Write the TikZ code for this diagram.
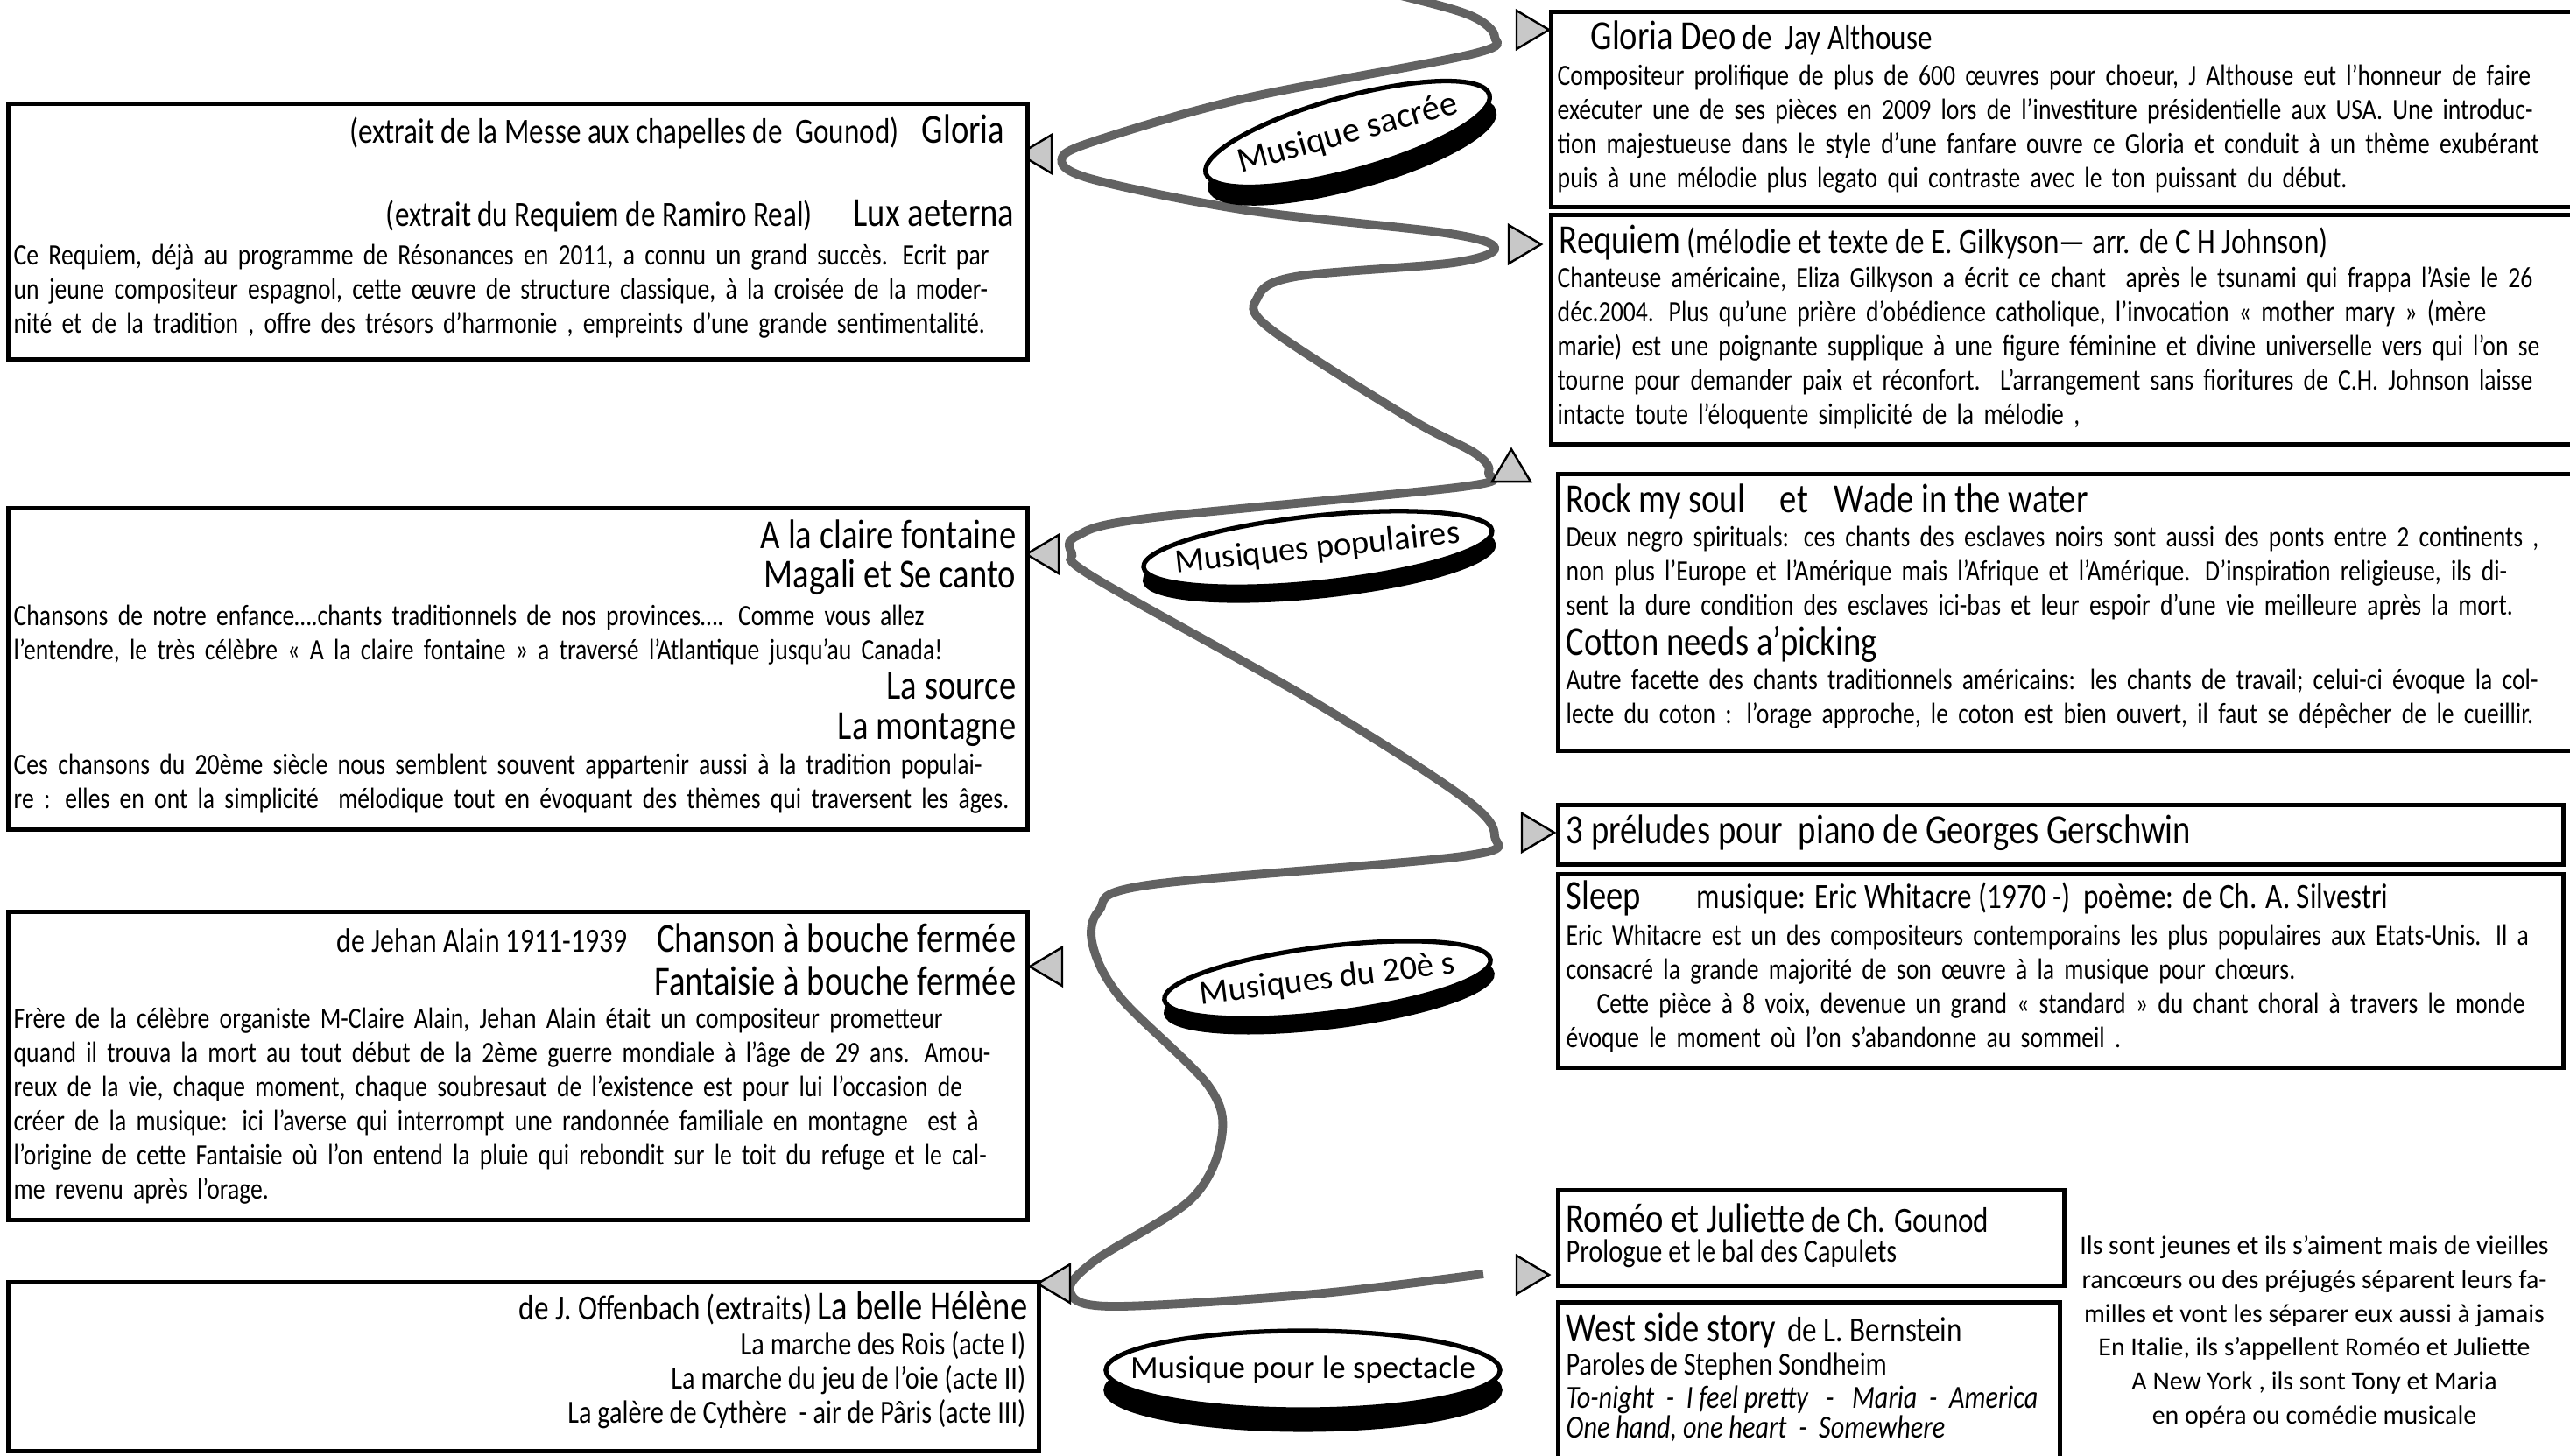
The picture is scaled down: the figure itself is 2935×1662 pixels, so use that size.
\documentclass[tikz,border=0pt]{standalone}
\usepackage{fontspec}
\setmainfont{Carlito}[FakeStretch=0.82]
\newfontfamily\discfont{Carlito}
\usetikzlibrary{shapes.geometric}

\definecolor{wavegray}{HTML}{626262}
\definecolor{tipgray}{HTML}{C8C8C8}

\newcommand\bodyfont{\fontsize{9.6}{11.1}\selectfont}
\newcommand\smallfont{\fontsize{10.5}{12}\selectfont}
\newcommand\midfont{\fontsize{11.5}{13}\selectfont}
\newcommand\headfont{\fontsize{13.4}{15}\selectfont}

% one line of a paragraph: justified, or left (last line)
\newcommand\jl[1]{\makebox[\hsize][s]{#1}\\}
\newcommand\el[1]{\makebox[\hsize][l]{#1}}

% triangle tip: x, y, direction
\newcommand\tip[3]{\filldraw[tip, shift={(#1,#2)}, rotate=#3] (-37,-22) -- (0,0) -- (-37,22) -- cycle;}

\tikzset{
  box/.style={draw, line width=1.4pt, fill=white, inner sep=0pt, anchor=north west},
  txt/.style={inner sep=0pt},
  para/.style={inner sep=0pt, anchor=north west, align=left, font=\bodyfont},
  wave/.style={draw=wavegray, line width=2.8pt},
  tip/.style={fill=tipgray, draw=black, line width=0.7pt},
  disc/.style={ellipse, draw, line width=1.5pt, fill=white, inner sep=0pt},
  discshadow/.style={disc, fill=black},
}

\begin{document}
\begin{tikzpicture}[x=0.01cm, y=-0.01cm]

\clip (0,0) rectangle (2935,1662);

% the wave
\draw [wave] plot [smooth, tension=0.55] coordinates {
  (1450,-40) (1600,-5) (1680,18) (1707,42) (1680,62)
  (1423,112) (1260,158) (1213,180) (1245,204)
  (1423,240) (1650,266) (1707,283) (1660,300)
  (1479,316) (1436,340) (1450,375)
  (1610,478) (1685,518) (1700,540) (1670,556)
  (1310,592) (1230,612) (1224,632) (1250,660)
  (1498,800) (1670,910) (1707,955) (1670,978)
  (1310,1011) (1255,1040) (1248,1080) (1280,1140)
  (1380,1240) (1395,1300) (1360,1370)
  (1250,1440) (1222,1475) (1270,1492)
  (1500,1478) (1694,1455)};

\tip{1769}{34}{0}
\tip{1164}{176}{180}
\tip{1760}{279}{0}
\tip{1726}{513}{90}
\tip{1172}{633}{180}
\tip{1775}{951}{0}
\tip{1176}{1104}{180}
\tip{1185}{1466}{180}
\tip{1769}{1456}{0}

% ellipses
\node [discshadow, minimum width=3.36cm, minimum height=0.84cm, rotate=15.5, yshift=-5.5pt] (sacree-s) at (1539,153) {};
\node [disc, minimum width=3.36cm, minimum height=0.84cm, rotate=15.5, font=\discfont\fontsize{11.5}{13}\selectfont] (sacree) at (1539,153) {\makebox[0pt]{Musique sacrée}};

\node [discshadow, minimum width=4cm, minimum height=0.76cm, rotate=6, yshift=-4.5pt] (popu-s) at (1505,627) {};
\node [disc, minimum width=4cm, minimum height=0.76cm, rotate=6, font=\discfont\fontsize{11}{13}\selectfont] (popu) at (1505,627) {\makebox[0pt]{Musiques populaires}};

\node [discshadow, minimum width=3.75cm, minimum height=0.76cm, rotate=7, yshift=-4.5pt] (vingt-s) at (1516,1119) {};
\node [disc, minimum width=3.75cm, minimum height=0.76cm, rotate=7, font=\discfont\fontsize{11}{13}\selectfont] (vingt) at (1516,1119) {\makebox[0pt]{Musiques du 20è s}};

\node [discshadow, minimum width=4.5cm, minimum height=0.9cm, yshift=-6.5pt] (spect-s) at (1488,1565) {};
\node [disc, minimum width=4.5cm, minimum height=0.9cm, font=\discfont\fontsize{10.5}{13}\selectfont] (spect) at (1488,1565) {\makebox[0pt]{Musique pour le spectacle}};

% right column
\node [box, minimum width=11.9cm, minimum height=2.23cm] (deo) at (1769,11) {};
\node [txt, right] (deo-t) at (1816,43) {{\headfont Gloria Deo} {\midfont de\ \ Jay Althouse}};
\node [para, text width=11.44cm] (deo-p) at (1778,73) {%
\jl{Compositeur prolifique de plus de 600 œuvres pour choeur, J Althouse eut l’honneur de faire}
\jl{exécuter une de ses pièces en 2009 lors de l’investiture présidentielle aux USA. Une introduc-}
\jl{tion majestueuse dans le style d’une fanfare ouvre ce Gloria et conduit à un thème exubérant}
\el{puis à une mélodie plus legato qui contraste avec le ton puissant du début.}};

\node [box, minimum width=11.9cm, minimum height=2.62cm] (requiem) at (1769,243) {};
\node [txt, right] (requiem-t) at (1780,277) {{\headfont Requiem} {\midfont (mélodie et texte de E. Gilkyson— arr. de C H Johnson)}};
\node [para, text width=11.29cm] (requiem-p) at (1778,304) {%
\jl{Chanteuse américaine, Eliza Gilkyson a écrit ce chant\ \ après le tsunami qui frappa l’Asie le 26}
\jl{déc.2004. Plus qu’une prière d’obédience catholique, l’invocation «~mother mary~» (mère}
\jl{marie) est une poignante supplique à une figure féminine et divine universelle vers qui l’on se}
\jl{tourne pour demander paix et réconfort.\ \ L’arrangement sans fioritures de C.H. Johnson laisse}
\el{intacte toute l’éloquente simplicité de la mélodie ,}};

\node [box, minimum width=11.9cm, minimum height=3.16cm] (rock) at (1777,539) {};
\node [txt, right, font=\headfont] (rock-t) at (1788,573) {Rock my soul\hspace{0.4cm}et\hspace{0.3cm}Wade in the water};
\node [para, text width=11.04cm] (rock-p) at (1788,600) {%
\jl{Deux negro spirituals: ces chants des esclaves noirs sont aussi des ponts entre 2 continents ,}
\jl{non plus l’Europe et l’Amérique mais l’Afrique et l’Amérique. D’inspiration religieuse, ils di-}
\el{sent la dure condition des esclaves ici-bas et leur espoir d’une vie meilleure après la mort.}};
\node [txt, right, font=\headfont] (cotton-t) at (1788,736) {Cotton needs a’picking};
\node [para, text width=11.04cm] (cotton-p) at (1788,763) {%
\jl{Autre facette des chants traditionnels américains: les chants de travail; celui-ci évoque la col-}
\el{lecte du coton : l’orage approche, le coton est bien ouvert, il faut se dépêcher de le cueillir.}};

\node [box, minimum width=11.47cm, minimum height=0.68cm] (preludes) at (1777,917) {};
\node [txt, right, font=\headfont] (preludes-t) at (1788,951) {3 préludes pour\ \ piano de Georges Gerschwin};

\node [box, minimum width=11.47cm, minimum height=2.21cm] (sleep) at (1777,996) {};
\node [txt, right, font=\headfont] (sleep-t) at (1788,1026) {Sleep};
\node [txt, right, font=\midfont] (sleep-m) at (1937,1026) {musique: Eric Whitacre (1970 -)\ \ poème: de Ch. A. Silvestri};
\node [para, text width=11.19cm] (sleep-p) at (1788,1055) {%
\jl{Eric Whitacre est un des compositeurs contemporains les plus populaires aux Etats-Unis. Il a}
\el{consacré la grande majorité de son œuvre à la musique pour chœurs.}\\
\el{\hspace*{0.35cm}Cette pièce à 8 voix, devenue un grand «~standard~» du chant choral à travers le monde}\\
\el{évoque le moment où l’on s’abandonne au sommeil .}};

\node [box, minimum width=5.78cm, minimum height=1.09cm] (romeo) at (1777,1357) {};
\node [txt, right] (romeo-t) at (1788,1391) {{\headfont Roméo et Juliette} {\midfont de Ch. Gounod}};
\node [txt, right, font=\smallfont] (romeo-p) at (1788,1432) {Prologue et le bal des Capulets};

\node [box, minimum width=5.73cm, minimum height=2.0cm] (westside) at (1777,1485) {};
\node [txt, right] (westside-t) at (1788,1520) {{\headfont West side story}\ \ {\midfont de L. Bernstein}};
\node [txt, right, font=\smallfont] (westside-a) at (1788,1561) {Paroles de Stephen Sondheim};
\node [txt, right, font=\smallfont\itshape] (westside-b) at (1788,1599) {To-night\ \ -\ \ I feel pretty\ \ \ -\ \ \ Maria\ \ -\ \ America};
\node [txt, right, font=\smallfont\itshape] (westside-c) at (1788,1632) {One hand, one heart\ \ -\ \ Somewhere};

\node [txt, below, align=center, font=\discfont\fontsize{8.5}{11}\selectfont] (story) at (2643,1411) {Ils sont jeunes et ils s’aiment mais de vieilles\\
rancœurs ou des préjugés séparent leurs fa-\\
milles et vont les séparer eux aussi à jamais\\
En Italie, ils s’appellent Roméo et Juliette\\
A New York , ils sont Tony et Maria\\
en opéra ou comédie musicale};

% left column
\node [box, minimum width=11.63cm, minimum height=2.92cm] (gloria) at (7,116) {};
\node [txt, left] (gloria-t) at (1148,150) {{\midfont (extrait de la Messe aux chapelles de\ \ Gounod)}\hspace{0.26cm}{\headfont Gloria}};
\node [txt, left] (lux-t) at (1159,247) {{\midfont (extrait du Requiem de Ramiro Real)}\hspace{0.47cm}{\headfont Lux aeterna}};
\node [para, text width=11.21cm] (gloria-p) at (15,278) {%
\jl{Ce Requiem, déjà au programme de Résonances en 2011, a connu un grand succès. Ecrit par}
\jl{un jeune compositeur espagnol, cette œuvre de structure classique, à la croisée de la moder-}
\el{nité et de la tradition , offre des trésors d’harmonie , empreints d’une grande sentimentalité.}};

\node [box, minimum width=11.63cm, minimum height=3.67cm] (fontaine) at (7,578) {};
\node [txt, left, font=\headfont] (fontaine-t) at (1161,610) {A la claire fontaine};
\node [txt, left, font=\headfont] (magali-t) at (1161,659) {Magali et Se canto};
\node [para, text width=10.9cm] (fontaine-p) at (15,690) {%
\jl{Chansons de notre enfance….chants traditionnels de nos provinces…. Comme vous allez}
\el{l’entendre, le très célèbre «~A la claire fontaine~» a traversé l’Atlantique jusqu’au Canada!}};
\node [txt, left, font=\headfont] (source-t) at (1161,784) {La source};
\node [txt, left, font=\headfont] (montagne-t) at (1161,833) {La montagne};
\node [para, text width=11.33cm] (montagne-p) at (15,860) {%
\jl{Ces chansons du 20ème siècle nous semblent souvent appartenir aussi à la tradition populai-}
\el{re : elles en ont la simplicité\ \ mélodique tout en évoquant des thèmes qui traversent les âges.}};

\node [box, minimum width=11.63cm, minimum height=3.52cm] (alain) at (7,1039) {};
\node [txt, left] (alain-t) at (1161,1071) {{\fontsize{11}{13}\selectfont de Jehan Alain 1911-1939}\hspace{0.34cm}{\headfont Chanson à bouche fermée}};
\node [txt, left, font=\headfont] (fantaisie-t) at (1161,1120) {Fantaisie à bouche fermée};
\node [para, text width=11.27cm] (alain-p) at (15,1150) {%
\jl{Frère de la célèbre organiste M-Claire Alain, Jehan Alain était un compositeur prometteur}
\jl{quand il trouva la mort au tout début de la 2ème guerre mondiale à l’âge de 29 ans. Amou-}
\jl{reux de la vie, chaque moment, chaque soubresaut de l’existence est pour lui l’occasion de}
\jl{créer de la musique: ici l’averse qui interrompt une randonnée familiale en montagne\ \ est à}
\jl{l’origine de cette Fantaisie où l’on entend la pluie qui rebondit sur le toit du refuge et le cal-}
\el{me revenu après l’orage.}};

\node [box, minimum width=11.76cm, minimum height=1.93cm] (helene) at (7,1462) {};
\node [txt, left] (helene-t) at (1174,1494) {{\midfont de J. Offenbach (extraits)} {\headfont La belle Hélène}};
\node [txt, left, font=\smallfont] (rois-t) at (1172,1537) {La marche des Rois (acte I)};
\node [txt, left, font=\smallfont] (oie-t) at (1172,1576) {La marche du jeu de l’oie (acte II)};
\node [txt, left, font=\smallfont] (galere-t) at (1172,1615) {La galère de Cythère\ \ - air de Pâris (acte III)};

\end{tikzpicture}
\end{document}
